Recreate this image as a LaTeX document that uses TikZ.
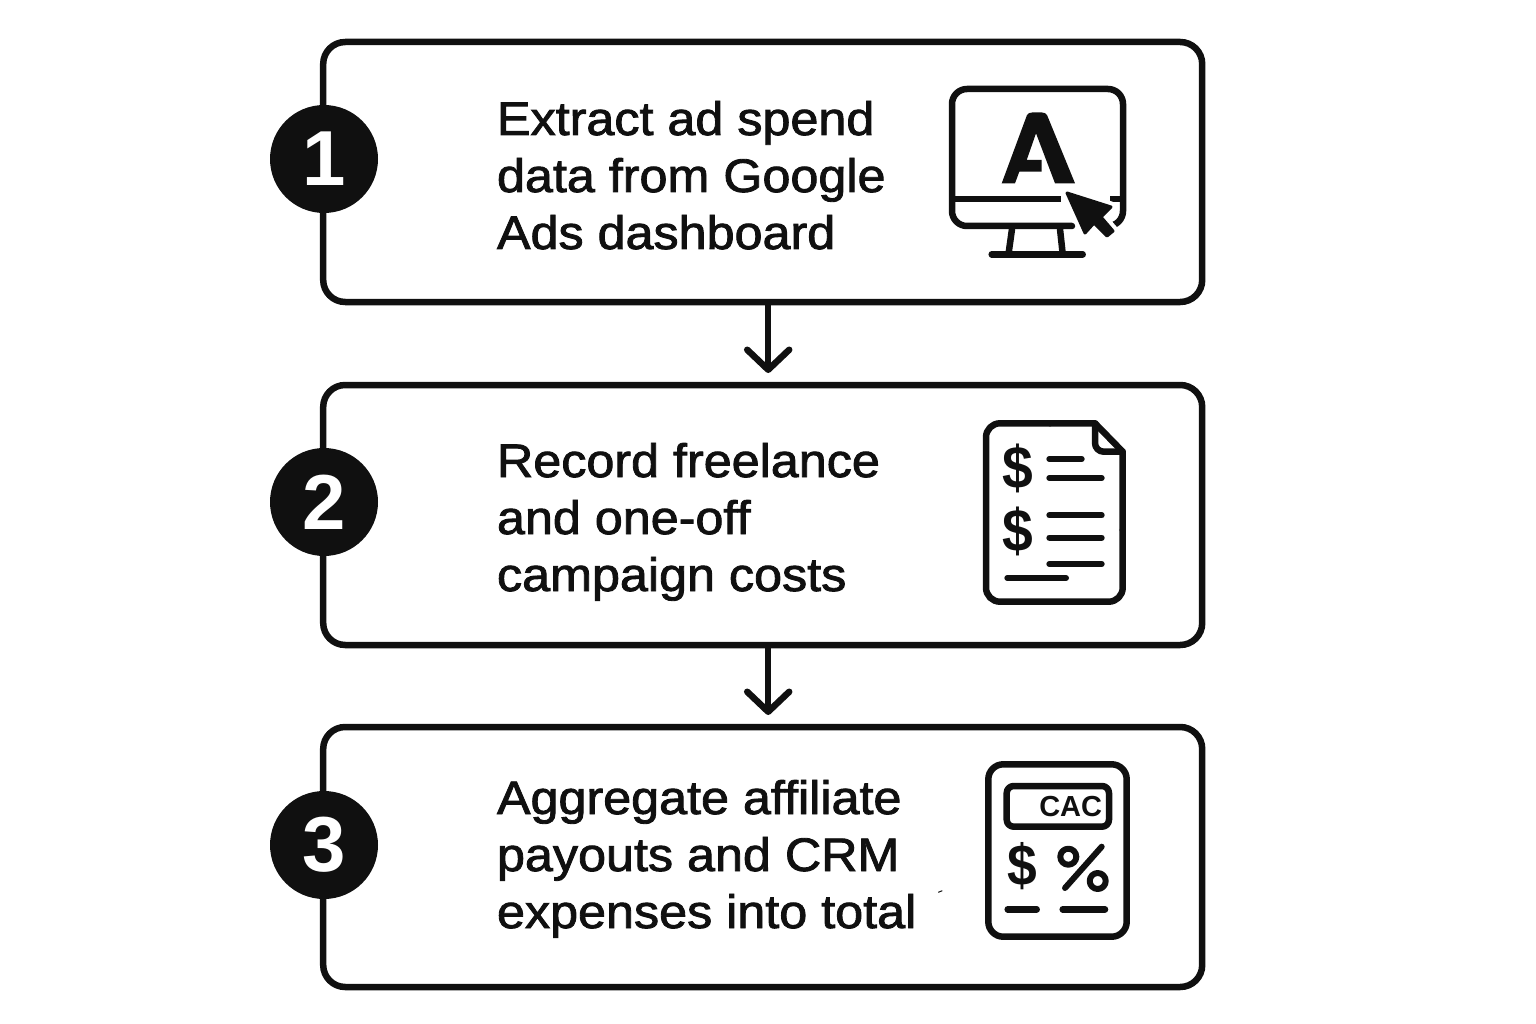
\documentclass[tikz,border=0pt]{standalone}
\usepackage{fontspec}
\setmainfont{Liberation Sans}[FakeStretch=1.07,RawFeature={embolden=1.8}]
\newfontfamily\iconfont{Liberation Sans Bold}
\newfontfamily\dollarfont{Liberation Sans Bold}[FakeStretch=0.92]
\usetikzlibrary{arrows.meta}
\definecolor{ink}{HTML}{101010}
\tikzset{
  stepbox/.style={draw=ink,line width=6.5pt,rounded corners=22pt,minimum width=879pt,minimum height=260pt,outer sep=0pt,inner sep=0pt},
  badge/.style={circle,fill=ink,text=white,minimum size=108pt,inner sep=0pt,outer sep=0pt,font=\iconfont\fontsize{78}{78}\selectfont},
  label/.style={anchor=base west,inner sep=0pt,outer sep=0pt,text=ink,font=\fontsize{47}{47}\selectfont},
  flow/.style={draw=ink,line width=6pt,shorten >=12pt,-{Straight Barb[length=20pt,width=42pt,line cap=round,line join=round,line width=6.5pt]}},
  icon/.style={draw=ink,line width=6.5pt,line cap=round,line join=round},
  iconthin/.style={draw=ink,line width=6pt,line cap=round},
  glyph/.style={inner sep=0pt,outer sep=0pt,text=ink}
}
\begin{document}
\begin{tikzpicture}[x=1pt,y=-1pt]
\useasboundingbox (0,0) rectangle (1536,1024);
\node[stepbox] (box1) at (762.7,172) {};
\node[stepbox] (box2) at (762.7,515) {};
\node[stepbox] (box3) at (762.7,857) {};
\draw[flow] ([xshift=5.5pt]box1.south) -- ([xshift=5.5pt]box2.north);
\draw[flow] ([xshift=5.5pt]box2.south) -- ([xshift=5.5pt]box3.north);
\node[badge] (n1) at (324,159) {1};
\node[badge] (n2) at (324,502) {2};
\node[badge] (n3) at (324,845) {3};
\node[label] (t11) at (497,135) {Extract ad spend};
\node[label] (t12) at (497,192) {data from Google};
\node[label] (t13) at (497,249) {Ads dashboard};
\node[label] (t21) at (497,477) {Record freelance};
\node[label] (t22) at (497,534) {and one-off};
\node[label] (t23) at (497,591) {campaign costs};
\node[label] (t31) at (497,814) {Aggregate affiliate};
\node[label] (t32) at (497,871) {payouts and CRM};
\node[label] (t33) at (497,928) {expenses into total};
% monitor icon
\draw[icon,rounded corners=15pt] (1072,226) -- (952,226) -- (952,89) -- (1123,89) -- (1123,226) -- (1090,226);
\draw[icon,line cap=butt] (952,199) -- (1061,199);
\draw[icon,line cap=butt] (1110,199) -- (1123,199);
\draw[icon] (1012,229) -- (1008.5,254) (1060,229) -- (1062.7,254);
\draw[icon] (991.7,254.3) -- (1082.7,254.3);
\fill[ink] (1001.7,183.3) -- (1027,115) .. controls (1028,113.3) and (1030,112.5) .. (1032,112.5) -- (1042,112.5) .. controls (1044,112.5) and (1046,113.3) .. (1047,115) -- (1075,183.3) -- (1055,183.3) -- (1036,133.3) -- (1026.7,160) -- (1041.7,160) -- (1041.7,171.7) -- (1019.3,171.7) -- (1015,183.3) -- cycle;
\path[draw=white,fill=white,line width=11pt,line join=round] (1067,193) -- (1111,207) -- (1101,217) -- (1113,231) -- (1107,236) -- (1094,223) -- (1085,233) -- cycle;
\fill[ink,draw=ink,line width=3pt,line join=round] (1067,193) -- (1111,207) -- (1101,217) -- (1113,231) -- (1107,236) -- (1094,223) -- (1085,233) -- cycle;
% invoice icon
\draw[icon,rounded corners=14pt] (1050,423.3) -- (986,423.3) -- (986,601.7) -- (1122.7,601.7) -- (1122.7,530);
\draw[icon] (1122.7,530) -- (1122.7,451.7) -- (1095,423.3) -- (1050,423.3);
\draw[icon] (1095,423.3) -- (1095,443) arc[start angle=180,end angle=90,radius=8.7] -- (1122.7,451.7);
\node[glyph,font=\dollarfont\fontsize{60}{60}\selectfont] (d1) at (1018.3,468.3) {\$};
\node[glyph,font=\dollarfont\fontsize{60}{60}\selectfont] (d2) at (1018.3,531) {\$};
\draw[iconthin] (1049.3,459) -- (1081.7,459);
\draw[iconthin] (1049.3,478) -- (1101.7,478);
\draw[iconthin] (1049.3,515.3) -- (1101.7,515.3);
\draw[iconthin] (1049.3,537.7) -- (1101.7,537.7);
\draw[iconthin] (1049.3,564) -- (1101.7,564);
\draw[iconthin] (1007.3,578) -- (1066,578);
% calculator icon
\draw[icon,rounded corners=15pt] (988.3,764.3) rectangle (1126.7,936.7);
\draw[icon,rounded corners=7pt] (1006.7,786) rectangle (1109,826.7);
\node[glyph,font=\iconfont\fontsize{29}{29}\selectfont] (cac) at (1070.7,806.7) {CAC};
\node[glyph,font=\dollarfont\fontsize{58}{58}\selectfont] (d3) at (1022.3,865.7) {\$};
\draw[icon,line width=6pt] (1068.3,856.7) circle[radius=8];
\draw[icon,line width=6pt] (1097.7,881) circle[radius=8];
\draw[icon,line width=6pt] (1101.7,846.7) -- (1065,888);
\draw[icon] (1007.7,909.3) -- (1036.7,909.3);
\draw[icon] (1062.7,909.3) -- (1105,909.3);
\draw[draw=ink,line width=1pt] (938.3,892.3) -- (942.3,890.7);
\end{tikzpicture}
\end{document}
